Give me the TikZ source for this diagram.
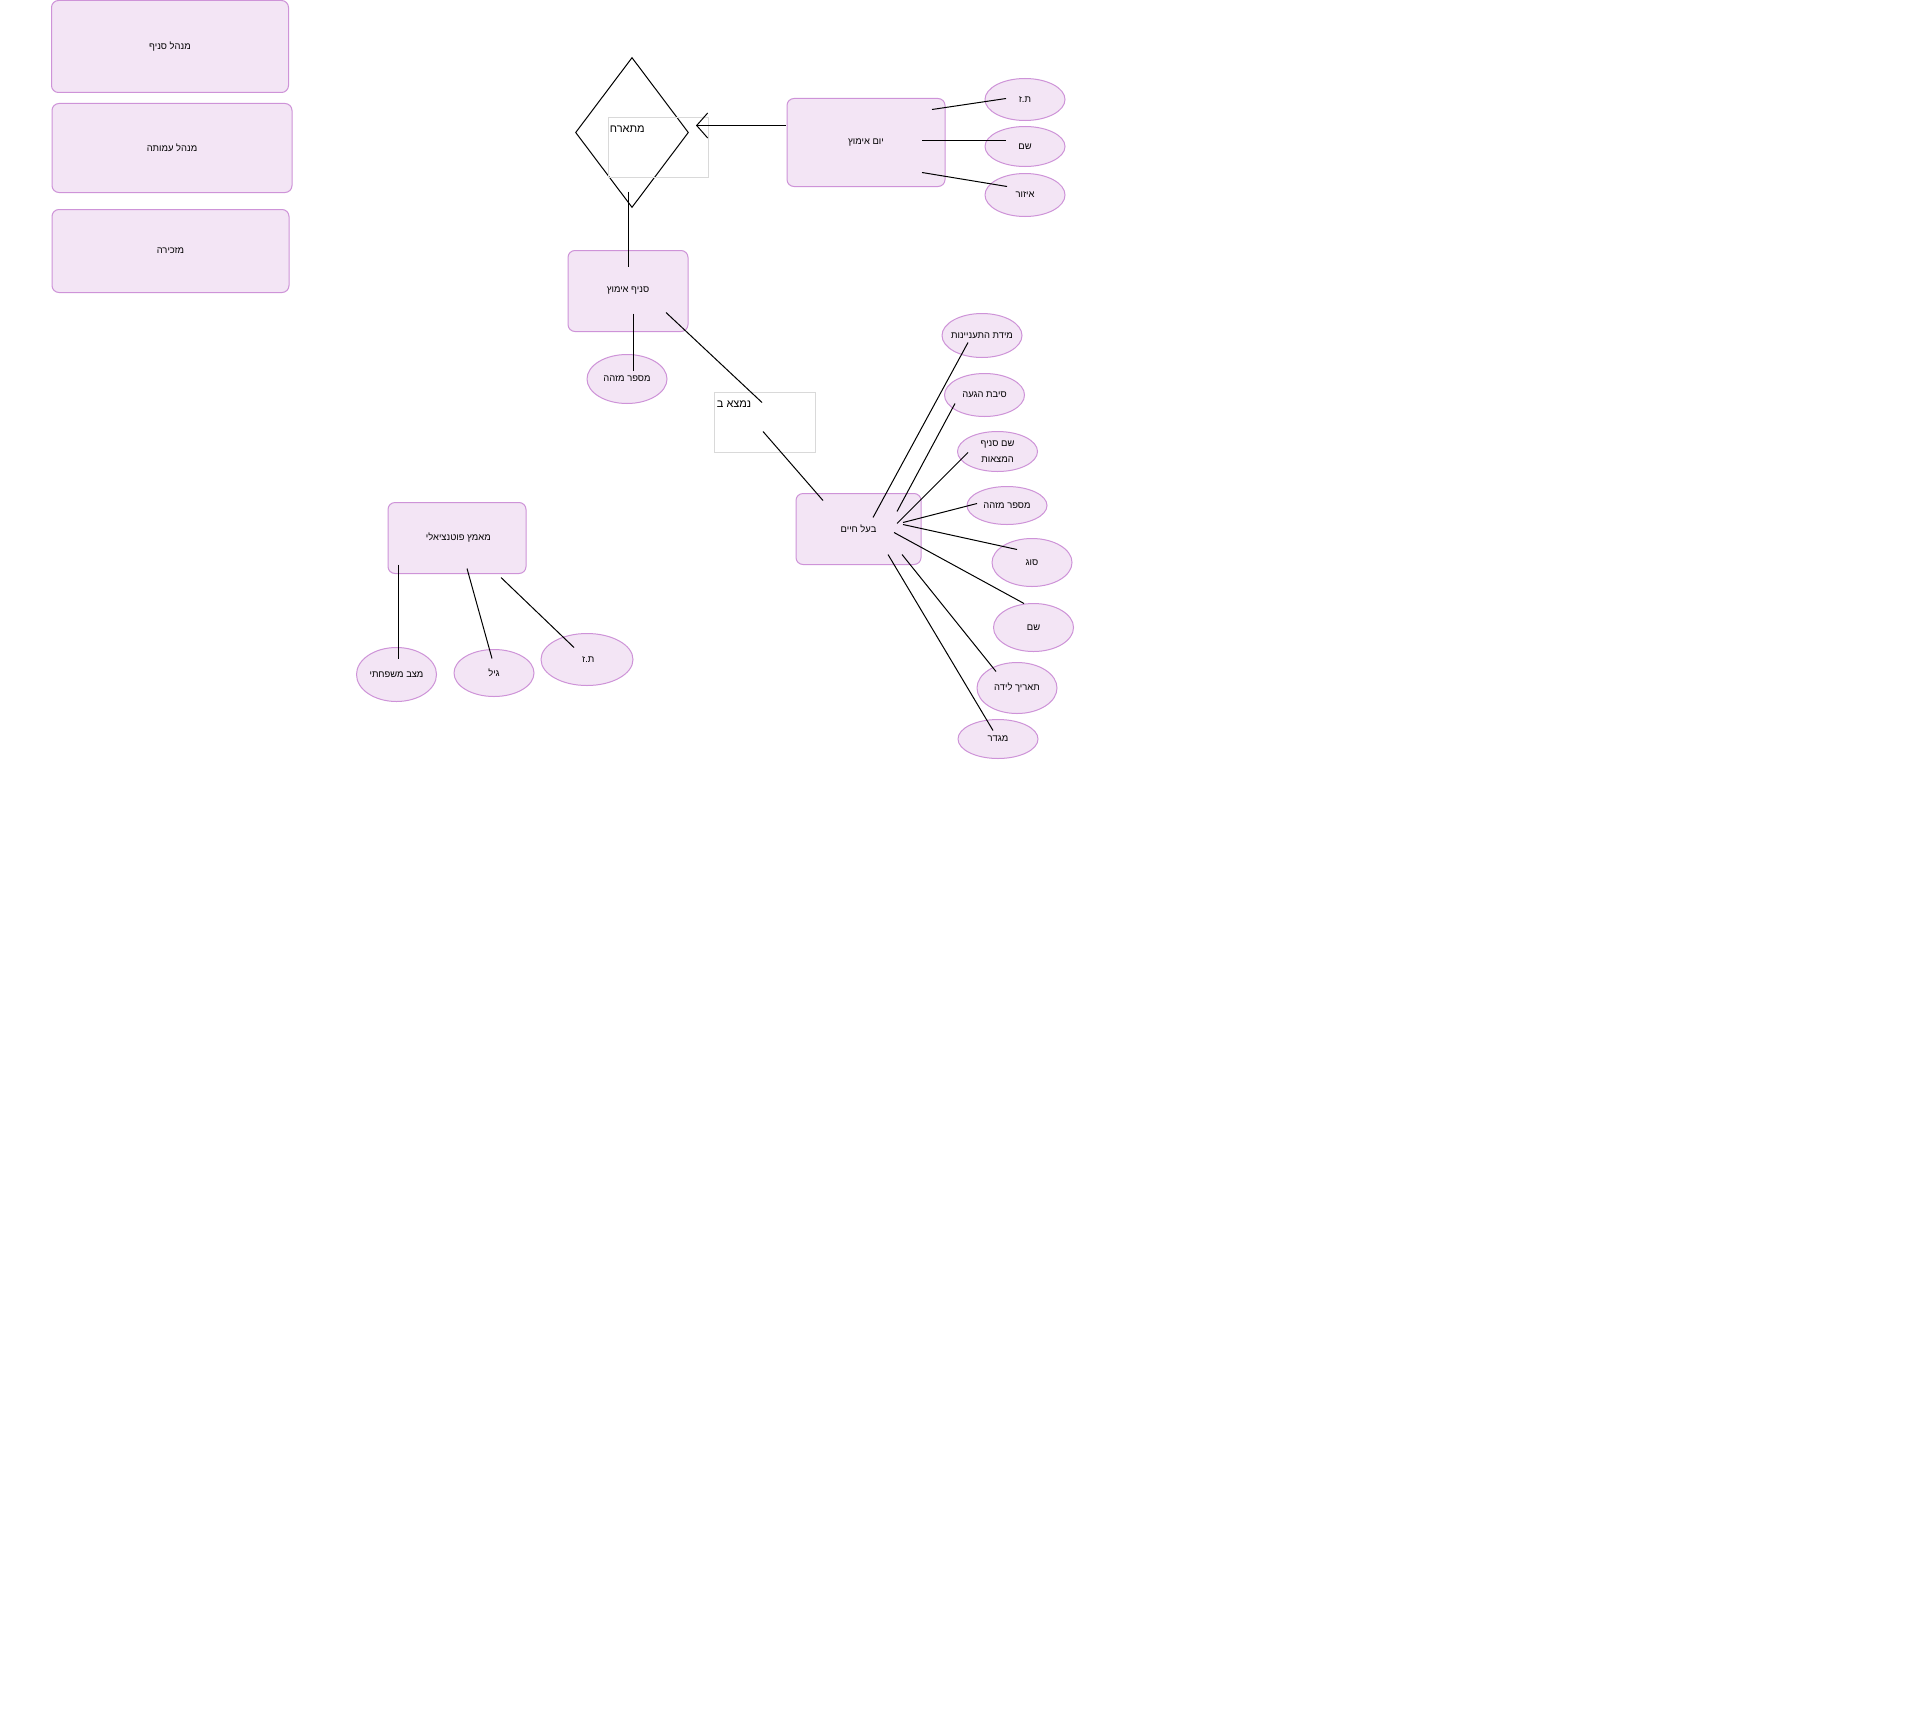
\documentclass[tikz,border=0pt]{standalone}
\usepackage{fontspec}
\newfontfamily\hebfont[Script=Hebrew]{Liberation Sans}
\TeXXeTstate=1
\usetikzlibrary{shapes.geometric,arrows.meta}
\newcommand{\he}[1]{\beginR #1\endR}
\definecolor{lilas}{HTML}{F3E5F5}
\definecolor{lilasbord}{HTML}{CE93D8}

\begin{document}
\begin{tikzpicture}[x=0.5pt, y=-0.5pt]
  % Styles
  \tikzset{
    txt/.style={font=\hebfont\fontsize{4.7}{8}\selectfont, text=black},
    grandtxt/.style={font=\hebfont\fontsize{5.5}{8}\selectfont, text=black, inner sep=0pt},
    ent/.style={txt, draw=lilasbord, fill=lilas, rounded corners=3.5pt, line width=0.5pt, inner sep=0pt},
    att/.style={txt, ellipse, draw=lilasbord, fill=lilas, line width=0.5pt, inner sep=0pt, inner xsep=-2pt, align=center},
    boite/.style={draw=black!15, line width=0.5pt, inner sep=0pt},
    lien/.style={line width=0.5pt, black},
  }

  % Fond
  \fill[white] (0,0) rectangle (1914,1728);

  % Entités
  \foreach \n/\x/\y/\w/\h/\t in {
    mgrbranch/170/46/118.5/46/{מנהל סניף},
    mgrngo/172/147.5/120/44.5/{מנהל עמותה},
    secretary/170.5/250.5/118.5/41.5/{מזכירה},
    adoptday/866/142/79/44/{יום אימוץ},
    branch/628/290.5/60/40.5/{סניף אימוץ},
    animal/858.5/528.5/62.5/35.5/{בעל חיים},
    adopter/457/537.5/69/35.5/{מאמץ פוטנציאלי}
  }{
    \node[ent, minimum width=\w pt, minimum height=\h pt] (\n) at (\x,\y) {\he{\t}};
  }

  % Attributs
  \foreach \n/\x/\y/\w/\h/\t in {
    dayid/1025/99/40/21/{ת.ז},
    dayname/1025/146/40/20/{שם},
    dayarea/1025/194.5/40/21.5/{איזור},
    branchid/627/378.5/40/24.5/{מספר מזהה},
    interest/982/335/40/22/{מידת התעניינות},
    reason/984.5/394.5/40/21.5/{סיבת הגעה},
    animalid/1007/505/40/19/{מספר מזהה},
    kind/1032/562/40/24/{סוג},
    animalname/1033.5/627/40/24/{שם},
    birth/1017/687.5/40/25.5/{תאריך לידה},
    gender/998/738.5/40/19.5/{מגדר},
    marital/396.5/674/40/27/{מצב משפחתי},
    age/494/672.5/40/23.5/{גיל},
    adoptid/587/659/46/26/{ת.ז}
  }{
    \node[att, minimum width=\w pt, minimum height=\h pt] (\n) at (\x,\y) {\he{\t}};
  }
  \node[att, minimum width=40pt, minimum height=20pt] (branchname) at (997.5,451)
    {\he{שם סניף}\\\he{המצאות}};

  % Relations
  \node[diamond, draw, line width=0.5pt, minimum width=56.5pt, minimum height=75pt, inner sep=0pt] (hosted) at (632,132) {};
  \node[boite, minimum width=50pt, minimum height=30pt] (hostedbox) at (658,147) {};
  \node[grandtxt, anchor=north west] (hostedtxt) at ([shift={(2,8)}]hostedbox.north west) {\he{מתארח}};
  \node[boite, minimum width=50.5pt, minimum height=30pt] (locbox) at (764.5,422) {};
  \node[grandtxt, anchor=north west] (loctxt) at ([shift={(3,8)}]locbox.north west) {\he{נמצא ב}};

  % Liens
  \draw[lien, -{Straight Barb[length=5.5pt, width=12.5pt]}] ([shift={(-1,-17)}]adoptday.west) -- ([shift={(64,-7)}]hosted.center);
  \foreach \a/\ax/\ay/\b/\bx/\by in {
    adoptday/66/-33/dayid/-19/-1,
    adoptday/56/-2/dayname/-19/-6,
    adoptday/56/30/dayarea/-18/-8.5,
    hosted/-4/59/branch/0/-24.5,
    branch/5/22.5/branchid/6/-8.5,
    branch/38/21.5/locbox/-2.5/-20,
    locbox/-1.5/9/animal/-35.5/-28.5,
    animal/14.5/-11.5/interest/-14/7,
    animal/38.5/-17.5/reason/-29.5/8.5,
    animal/38.5/-5.5/branchname/-29.5/1,
    animal/44.5/-6.5/animalid/-30/-2,
    animal/44.5/-4.5/kind/-15/-13,
    animal/35.5/3.5/animalname/-9.5/-24,
    animal/43.5/25.5/birth/-21/-16.5,
    animal/29.5/25.5/gender/-5/-8.5,
    adopter/-59/26.5/marital/1.5/-16,
    adopter/10/30.5/age/-2/-14.5,
    adopter/44/39.5/adoptid/-13/-12
  }{
    \draw[lien] ([shift={(\ax,\ay)}]\a.center) -- ([shift={(\bx,\by)}]\b.center);
  }

\end{tikzpicture}
\end{document}
